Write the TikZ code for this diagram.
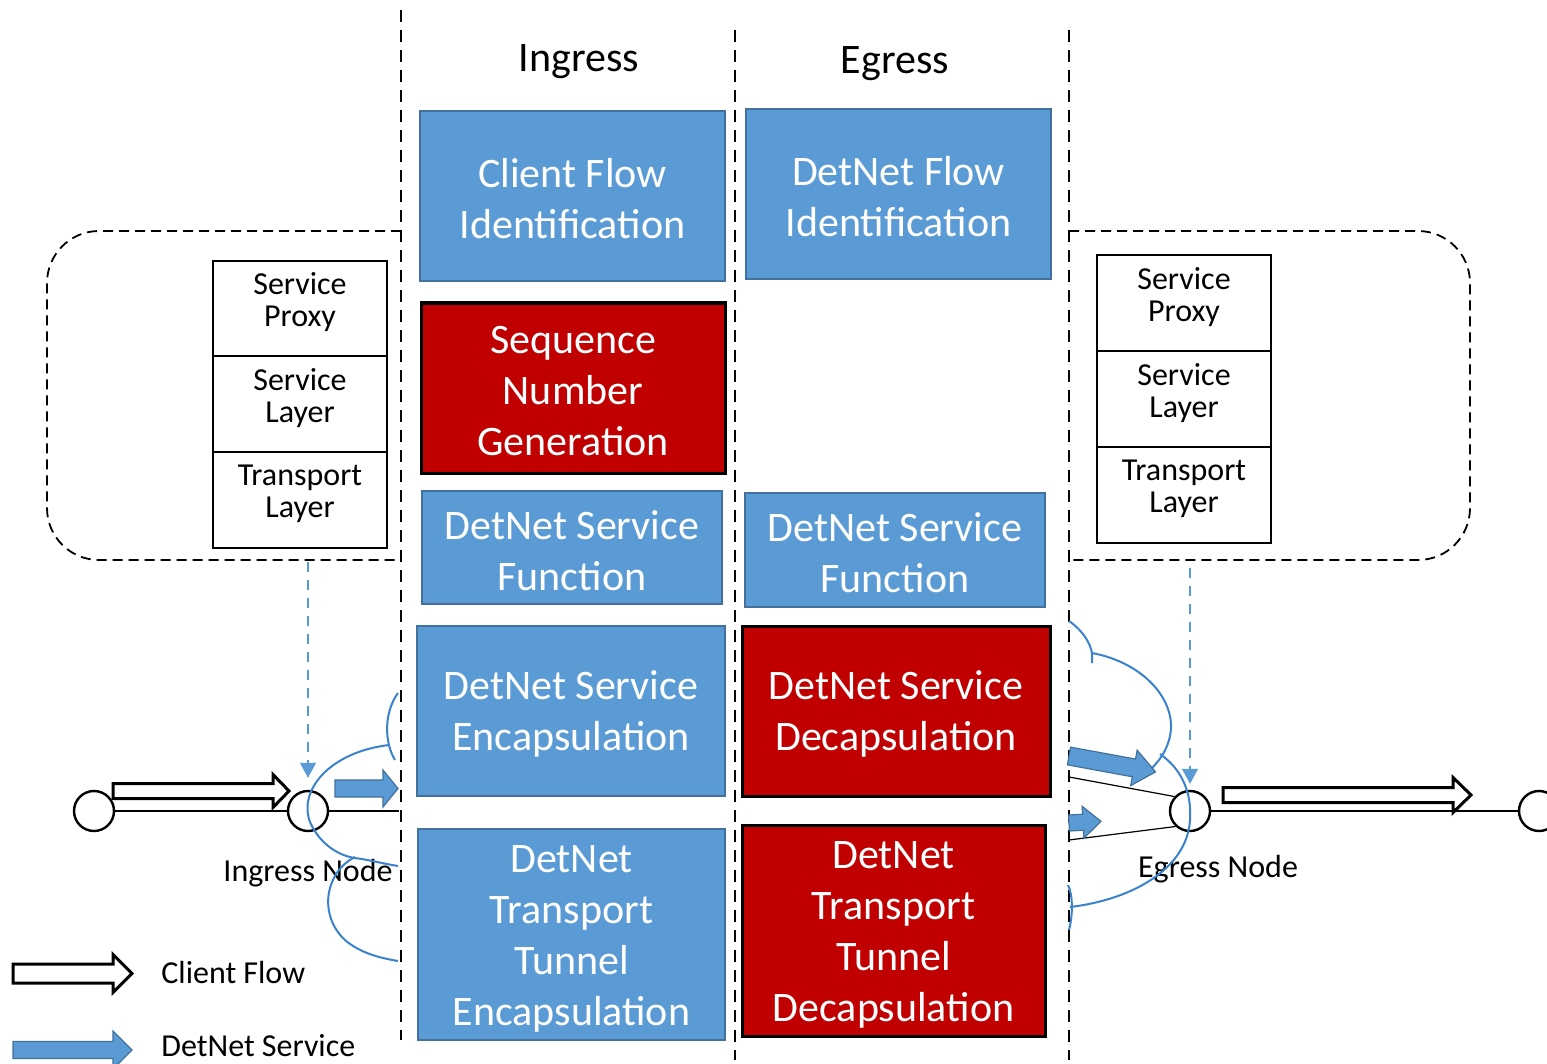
\documentclass[tikz,border=0pt]{standalone}
\usepackage{fontspec}
\setmainfont{Carlito}
\usetikzlibrary{arrows.meta,fit}
\definecolor{boxblue}{HTML}{5B9BD5}
\definecolor{boxblueedge}{HTML}{41719C}
\definecolor{boxred}{HTML}{C00000}
\definecolor{curveblue}{RGB}{59,130,204}
\tikzset{
  pics/blockarrow/.style n args={4}{code={
    \path[pic actions] (0,-#2) -- ({#1-#4},-#2) -- ({#1-#4},-#3) -- (#1,0)
      -- ({#1-#4},#3) -- ({#1-#4},#2) -- (0,#2) -- cycle;
  }},
  bluebox/.style={fill=boxblue, draw=boxblueedge, line width=1.1pt, inner sep=0pt},
  redbox/.style={fill=boxred, draw=black, line width=1.5pt, inner sep=0pt},
  boxtext/.style={text=white, font=\fontsize{21}{25.5}\selectfont, align=center, inner sep=0pt},
  cell/.style={draw=black, line width=1.1pt, inner sep=0pt},
  celltext/.style={font=\fontsize{16}{16}\selectfont, align=center, inner sep=0pt},
  header/.style={font=\fontsize{21}{25}\selectfont, inner sep=0pt},
  label/.style={font=\fontsize{16}{17}\selectfont, inner sep=0pt},
  coldash/.style={dash pattern=on 6pt off 4pt, line width=0.6pt},
  framedash/.style={dash pattern=on 5pt off 3pt, line width=0.9pt, rounded corners=26pt},
  ring/.style={circle, draw=black, fill=white, line width=1.2pt, minimum size=20pt, inner sep=0pt},
  dropdash/.style={draw=boxblue, dash pattern=on 5pt off 4pt, line width=0.6pt,
    -{Triangle[length=7.5pt,width=8pt,fill=boxblue]}},
  curve/.style={draw=curveblue, line width=1pt},
  hollow/.style={draw=black, fill=white, line width=1.5pt},
  solidflow/.style={draw=boxblueedge, fill=boxblue, line width=0.6pt},
  flowline/.style={draw=black, line width=0.6pt}
}
\begin{document}
\begin{tikzpicture}[x=0.5pt,y=-0.5pt]
\useasboundingbox (0,0) rectangle (1547,1064);
\clip (0,0) rectangle (1547,1064);

% column separators
\draw[coldash] (401,10) -- (401,1040);
\draw[coldash] (735,30) -- (735,1060);
\draw[coldash] (1069,30) -- (1069,1060);

% node frames
\draw[framedash] (401,231) -- (47,231) -- (47,560) -- (401,560);
\draw[framedash] (1069,231) -- (1470,231) -- (1470,560) -- (1069,560);

% column headers
\node[header] (hin) at (579,62) {Ingress};
\node[header] (heg) at (895,64) {Egress};

% ingress functions
\node[bluebox, fit={(420,111) (725,281)}] (cfi) {};
\node[redbox, fit={(421,303) (725,473)}] (sng) {};
\node[bluebox, fit={(422,491) (722,604)}] (isf) {};
\node[bluebox, fit={(417,626) (725,796)}] (ise) {};
\node[bluebox, fit={(418,829) (725,1040)}] (ite) {};
\node[boxtext] (cfit) at ([yshift=-1.5pt]cfi.center) {Client Flow\\Identification};
\node[boxtext] (sngt) at ([yshift=-1.5pt]sng.center) {Sequence\\Number\\Generation};
\node[boxtext] (isft) at ([yshift=-1.5pt]isf.center) {DetNet Service\\Function};
\node[boxtext] (iset) at ([yshift=-1.5pt]ise.center) {DetNet Service\\Encapsulation};
\node[boxtext] (itet) at ([yshift=-2pt]ite.center) {DetNet\\Transport\\Tunnel\\Encapsulation};

% egress functions
\node[bluebox, fit={(746,109) (1051,279)}] (efi) {};
\node[bluebox, fit={(745,493) (1045,607)}] (esf) {};
\node[redbox, fit={(742,626) (1050,796)}] (esd) {};
\node[redbox, fit={(742,825) (1045,1036)}] (etd) {};
\node[boxtext] (efit) at ([yshift=-1.5pt]efi.center) {DetNet Flow\\Identification};
\node[boxtext] (esft) at ([yshift=-1.5pt]esf.center) {DetNet Service\\Function};
\node[boxtext] (esdt) at ([yshift=-1.5pt]esd.center) {DetNet Service\\Decapsulation};
\node[boxtext] (etdt) at ([yshift=-2pt]etd.center) {DetNet\\Transport\\Tunnel\\Decapsulation};

% ingress node stack
\node[cell, fit={(213,261) (387,356)}] (lsp) {};
\node[cell, fit={(213,356) (387,452)}] (lsl) {};
\node[cell, fit={(213,452) (387,548)}] (ltl) {};
\node[celltext] (lspt) at ([yshift=3.2pt]lsp.center) {Service\\Proxy};
\node[celltext] (lslt) at ([yshift=3.2pt]lsl.center) {Service\\Layer};
\node[celltext] (ltlt) at ([yshift=3.2pt]ltl.center) {Transport\\Layer};

% egress node stack
\node[cell, fit={(1097,255) (1271,351)}] (rsp) {};
\node[cell, fit={(1097,351) (1271,447)}] (rsl) {};
\node[cell, fit={(1097,447) (1271,543)}] (rtl) {};
\node[celltext] (rspt) at ([yshift=3.2pt]rsp.center) {Service\\Proxy};
\node[celltext] (rslt) at ([yshift=3.2pt]rsl.center) {Service\\Layer};
\node[celltext] (rtlt) at ([yshift=3.2pt]rtl.center) {Transport\\Layer};

% path nodes
\coordinate (lend) at (399,811);
\coordinate (rtop) at (1069,777);
\coordinate (rbot) at (1069,840);
\node[ring] (src) at (94,811) {};
\node[ring] (inode) at (308,811) {};
\node[ring] (enode) at (1190,811) {};
\node[ring] (dst) at (1539,811) {};
\draw[flowline] (src) -- (inode);
\draw[flowline] (inode) -- (lend);
\draw[flowline] (enode) -- (dst);
\draw[flowline] (rtop) -- (enode.137);
\draw[flowline] (rbot) -- (enode.227);

\node[label] (inl) at (308,873) {Ingress Node};
\node[label] (egl) at (1218,869) {Egress Node};

% stack to node mapping
\coordinate (ldrop) at (308,562);
\coordinate (rdrop) at (1190,568);
\draw[dropdash, shorten >=6pt] (ldrop) -- (inode.north);
\draw[dropdash, shorten >=3pt] (rdrop) -- (enode.north);

% ingress braces
\draw[curve] (398,693) .. controls (384,712) and (384,742) .. (395,760);
\draw[curve] (389,745) .. controls (330,752) and (298,790) .. (310,822)
  .. controls (320,845) and (340,856) .. (355,858)
  .. controls (370,860) and (385,864) .. (398,866);
\draw[curve] (355,857) .. controls (325,872) and (318,915) .. (345,940)
  .. controls (360,953) and (380,958) .. (398,961);

% egress braces
\draw[curve] (1069,621) .. controls (1082,630) and (1090,642) .. (1092,653) -- (1092,663);
\draw[curve] (1092,653) .. controls (1140,662) and (1172,695) .. (1171,728)
  .. controls (1170,745) and (1162,758) .. (1152,768);
\draw[curve] (1160,754) .. controls (1180,768) and (1192,790) .. (1190,820)
  .. controls (1187,870) and (1130,900) .. (1070,907);
\draw[curve] (1068,885) .. controls (1073,895) and (1073,915) .. (1069,930);

% flow arrows
\pic[hollow] at (113,791) {blockarrow={176}{7.5}{16.5}{16}};
\pic[hollow] at (1223,795) {blockarrow={248}{7.5}{17.5}{18}};
\pic[solidflow] at (335,788.5) {blockarrow={63}{8.5}{18.5}{15}};
\pic[solidflow, rotate=-10.4] at (1069,756) {blockarrow={88}{9}{18}{22}};
\pic[solidflow, rotate=3] at (1069,823) {blockarrow={32}{8}{16}{18}};

% legend
\pic[hollow] at (13,973.5) {blockarrow={119}{9.5}{19}{19}};
\node[label, anchor=west] (lg1) at (161,972) {Client Flow};
\pic[solidflow] at (13,1050) {blockarrow={119}{8.5}{19}{19}};
\node[label, anchor=base west] (lg2) at (161,1056) {DetNet Service};
\end{tikzpicture}
\end{document}
